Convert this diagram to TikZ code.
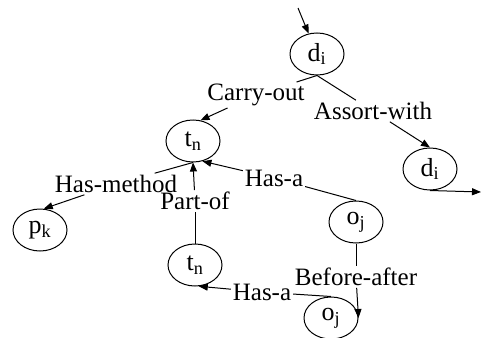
\documentclass[tikz,border=0pt]{standalone}
\usepackage{fontspec}
\setmainfont{Liberation Serif}
\usetikzlibrary{shapes.geometric, arrows.meta}

\begin{document}
\begin{tikzpicture}[x=1pt, y=-1pt, line width=1pt,
        state/.style={draw, ellipse, inner sep=0pt, minimum width=54pt, minimum height=42pt, font=\fontsize{26}{28}\selectfont},
        rel/.style={inner sep=1.5pt, font=\fontsize{25}{28}\selectfont},
        arr/.style={-{Triangle[length=9pt, width=7pt]}}]
            \useasboundingbox (0,0) rectangle (481,337);
            \node[state] (D1) at (317,54) {d\textsubscript{i}};
            \node[state] (T1) at (193,141) {t\textsubscript{n}};
            \node[state] (D2) at (430,169) {d\textsubscript{i}};
            \node[state] (P) at (40,230) {p\textsubscript{k}};
            \node[state] (O1) at (356,222) {o\textsubscript{j}};
            \node[state] (T2) at (195,265) {t\textsubscript{n}};
            \node[state] (O2) at (331,318) {o\textsubscript{j}};
            \node[rel] (Lcarry) at (256,95) {Carry-out};
            \node[rel] (Lassort) at (373,111) {Assort-with};
            \node[rel] (Lhas1) at (274,178) {Has-a};
            \node[rel] (Lmethod) at (116,184) {Has-method};
            \node[rel] (Lpart) at (195,201) {Part-of};
            \node[rel] (Lbefore) at (356,277) {Before-after};
            \node[rel] (Lhas2) at (262,292) {Has-a};
            \coordinate (start) at (298,8);
            \coordinate (stop) at (481,192);
            \draw[arr] (start) -- (D1);
            \draw (D1.south) -- (Lcarry);
            \draw[arr] (Lcarry) -- (T1.70);
            \draw (D1.south) -- (Lassort);
            \draw[arr] (Lassort) -- (D2.north);
            \draw[arr] (D2.south) -- (stop);
            \draw (O1.north) -- (Lhas1);
            \draw[arr] (Lhas1) -- (T1.-65);
            \draw (T1.south) -- (Lmethod);
            \draw[arr] (Lmethod) -- (P.80);
            \draw (T2.north) -- (Lpart);
            \draw[arr] (Lpart) -- (T1.south);
            \draw (O1.south) -- (Lbefore);
            \draw[arr] (Lbefore) -- (O2.east);
            \draw (O2.north) -- (Lhas2);
            \draw[arr] (Lhas2) -- (T2.-80);
        \end{tikzpicture}
\end{document}
